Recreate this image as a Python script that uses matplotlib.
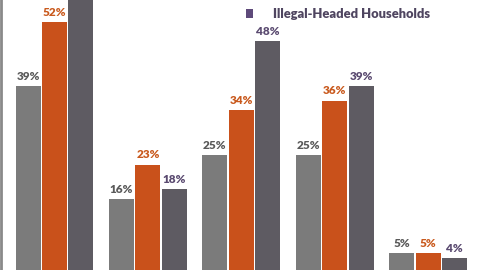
import matplotlib
matplotlib.use("Agg")
import matplotlib.pyplot as plt
import numpy as np
from matplotlib.patches import Patch

groups = ["A", "B", "C", "D", "E"]
series_names = ["Series 1", "Series 2", "Illegal-Headed Households"]
s1 = [39, 16, 25, 25, 5]
s2 = [52, 23, 34, 36, 5]
s3 = [60, 18, 48, 39, 4]
labels1 = ["39%", "16%", "25%", "25%", "5%"]
labels2 = ["52%", "23%", "34%", "36%", "5%"]
labels3 = ["60%", "18%", "48%", "39%", "4%"]

bar_colors = ["#7b7b7b", "#c9511b", "#5e5b62"]
label_colors = ["#5a5a5a", "#c95a1e", "#5a4a70"]

fig = plt.figure(figsize=(4.8, 2.7), dpi=100)
ax = fig.add_axes([0, 0, 1, 1])
x = np.arange(len(groups))
w = 0.268
offs = [-0.283, 0.0, 0.283]
for vals, labs, off, bc, lc in zip([s1, s2, s3], [labels1, labels2, labels3], offs, bar_colors, label_colors):
    ax.bar(x + off, vals, width=w, color=bc, edgecolor="none")
    for xi, v, t in zip(x + off, vals, labs):
        ax.annotate(t, (xi, v), xytext=(0, 3), textcoords="offset points",
                    ha="center", va="bottom", fontsize=8.5, fontweight="heavy",
                    color=lc, family="Lato", clip_on=True, annotation_clip=True)

ax.set_xlim(-0.584, 4.556)
ax.set_ylim(1.62, 56.4)
ax.axis("off")

# left frame line
fig.add_artist(plt.Line2D([0.002, 0.002], [0, 1], color="#8a8a8a", lw=2, transform=fig.transFigure))

handle = Patch(facecolor="#5e4a7a", edgecolor="none")
leg = fig.legend([handle], [series_names[2]], loc="center left",
                 bbox_to_anchor=(0.4875, 0.948), frameon=False, handlelength=0.6,
                 handleheight=0.6, handletextpad=1.55,
                 prop={"family": "Lato", "weight": "heavy", "size": 9.3})
for t in leg.get_texts():
    t.set_color("#4f4560")

fig.savefig("out.png", dpi=100)
